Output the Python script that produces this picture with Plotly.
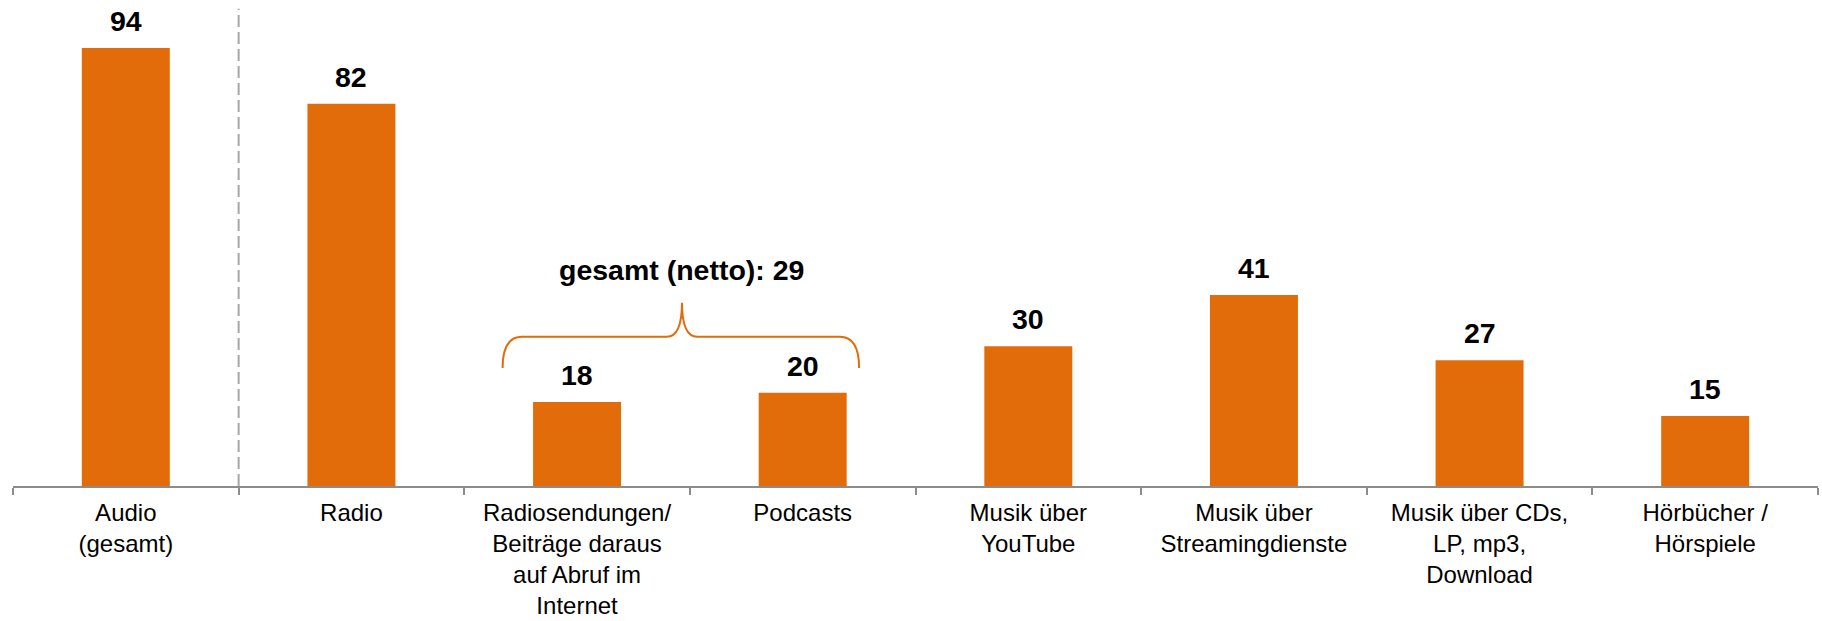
import plotly.graph_objects as go

categories = ["Audio<br>(gesamt)", "Radio",
              "Radiosendungen/<br>Beiträge daraus<br>auf Abruf im<br>Internet",
              "Podcasts", "Musik über<br>YouTube", "Musik über<br>Streamingdienste",
              "Musik über CDs,<br>LP, mp3,<br>Download", "Hörbücher /<br>Hörspiele"]
values = [94, 82, 18, 20, 30, 41, 27, 15]
netto_label = "gesamt (netto): 29"

orange = "#E36C0A"
grey = "#8c8c8c"
font_fam = "Arial, Liberation Sans, sans-serif"

fig = go.Figure()
fig.add_trace(go.Bar(x=categories, y=values, marker=dict(color=orange, line=dict(width=0)),
                     hoverinfo="x+y"))

# value labels above the bars
for i, v in enumerate(values):
    fig.add_annotation(x=i, y=v, text="<b>%d</b>" % v, showarrow=False,
                       yanchor="bottom", yshift=9,
                       font=dict(size=28.5, color="black", family=font_fam))

# dashed separator after "Audio (gesamt)"
fig.add_shape(type="line", xref="x", yref="y", x0=0.5, x1=0.5, y0=0, y1=102.4,
              line=dict(color="#a6a6a6", width=2, dash="12px,5px"))

# curly brace over Radiosendungen + Podcasts
xl, xr, xm = 1.67, 3.25, 2.465
ye, yh, yt = 25.3, 32.0, 39.3
d = 0.085
brace = (f"M {xl},{ye} Q {xl},{yh} {xl+d},{yh} L {xm-d*0.8},{yh} "
         f"Q {xm},{yh} {xm},{yt} Q {xm},{yh} {xm+d*0.8},{yh} "
         f"L {xr-d},{yh} Q {xr},{yh} {xr},{ye}")
fig.add_shape(type="path", xref="x", yref="y", path=brace,
              line=dict(color=orange, width=2))
fig.add_annotation(x=xm, y=yt, text="<b>" + netto_label + "</b>", showarrow=False,
                   yanchor="bottom", yshift=15,
                   font=dict(size=28.5, color="black", family=font_fam))

fig.update_layout(
    width=1822, height=621,
    margin=dict(l=13, r=4, t=5, b=135),
    plot_bgcolor="white", paper_bgcolor="white",
    bargap=0.61, showlegend=False,
    font=dict(family=font_fam, color="black"),
    xaxis=dict(type="category", showline=True, linecolor=grey, linewidth=2,
               ticks="outside", tickson="boundaries", ticklen=7, tickcolor=grey, tickwidth=2,
               tickfont=dict(size=24, color="black", family=font_fam),
               showgrid=False, zeroline=False, ticklabelstandoff=4, automargin=False),
    yaxis=dict(visible=False, range=[0, 103.2], showgrid=False, zeroline=False,
               automargin=False),
)

fig.write_html("out.html", config={"displayModeBar": False},
               post_script="document.body.style.margin='0px';")
